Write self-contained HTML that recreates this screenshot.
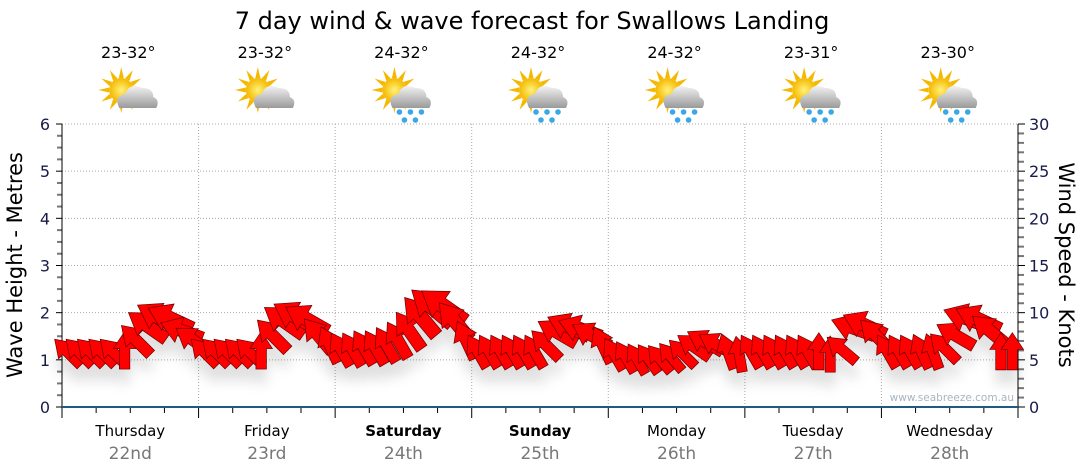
<!DOCTYPE html>
<html><head><meta charset="utf-8">
<style>
html,body{margin:0;padding:0;background:#fff;width:1080px;height:475px;overflow:hidden}
svg text{font-family:"DejaVu Sans","Liberation Sans",sans-serif}
</style></head>
<body>
<svg id="chart" width="1080" height="475" viewBox="0 0 1080 475" xmlns="http://www.w3.org/2000/svg">
<defs>
<filter id="sh" x="-50%" y="-50%" width="200%" height="200%">
<feDropShadow dx="0" dy="14" stdDeviation="6" flood-color="#000" flood-opacity="0.12"/>
</filter>
<radialGradient id="sunG" cx="50%" cy="50%" r="50%"><stop offset="0" stop-color="#fff27a"/><stop offset="1" stop-color="#f5b800"/></radialGradient>
<linearGradient id="cloudG" x1="0" y1="0" x2="0" y2="1"><stop offset="0" stop-color="#f2f2f2"/><stop offset="1" stop-color="#9a9a9a"/></linearGradient>
</defs>
<text x="532" y="29" font-size="24" text-anchor="middle" fill="#000">7 day wind &amp; wave forecast for Swallows Landing</text>
<g id="grid"></g>
<g id="axes"></g>
<g id="icons"></g>
<g id="arrows" filter="url(#sh)"></g>
<text x="1014" y="401" font-size="10.5" text-anchor="end" fill="#a8b4c0">www.seabreeze.com.au</text>
<text transform="translate(22,265) rotate(-90)" font-size="21" text-anchor="middle" fill="#000">Wave Height - Metres</text>
<text transform="translate(1059,265) rotate(90)" font-size="21" text-anchor="middle" fill="#000">Wind Speed - Knots</text>
</svg>
<script>
const days = ["Thursday","Friday","Saturday","Sunday","Monday","Tuesday","Wednesday"];
const dates = ["22nd","23rd","24th","25th","26th","27th","28th"];
const boldDays = [false,false,true,true,false,false,false];
const temps = ["23-32°","23-32°","24-32°","24-32°","24-32°","23-31°","23-30°"];
const rain = [false,false,true,true,true,true,true];
const waveTicks = [0,1,2,3,4,5,6];
const windTicks = [0,5,10,15,20,25,30];
const windSpeed = [5.7,5.7,5.7,5.7,5.7,5.9,7.0,8.5,9.4,9.3,8.0,7.0,
 5.7,5.7,5.7,5.7,5.7,5.9,7.5,9.0,9.5,9.2,7.5,6.5,
 6.0,6.0,6.2,6.2,6.5,7.0,8.0,9.5,10.5,10.6,9.0,7.0,
 5.8,5.8,5.8,5.8,5.8,5.8,6.5,7.8,8.4,8.2,7.5,6.5,
 5.5,5.2,5.0,5.0,5.0,5.2,5.6,6.3,6.8,6.5,5.8,5.5,
 5.8,5.8,5.8,5.8,5.8,5.8,5.8,5.5,6.0,8.3,8.6,7.5,
 5.8,5.8,5.8,5.8,5.8,6.2,7.5,9.3,9.2,8.0,5.8,5.8];
const windDir = [-45,-45,-45,-45,-45,0,-45,-55,-60,-65,-70,-55,
 -45,-45,-45,-45,-45,0,-45,-55,-60,-60,-40,-25,
 -30,-30,-30,-30,-30,-30,-35,-40,-50,-55,-40,-25,
 -30,-30,-30,-30,-30,-30,-45,-60,-65,-70,-60,-25,
 -30,-30,-30,-35,-40,-40,-45,-55,-60,-60,-20,-10,
 -30,-30,-30,-30,-30,-30,0,0,-50,-70,-65,-45,
 -30,-30,-30,-25,-20,-45,-60,-70,-65,-50,0,0];

const NS="http://www.w3.org/2000/svg";
const X0=62,X1=1018,Y0=407,Y1=124;
const dayW=(X1-X0)/days.length;
const yW=m=>Y0-(m/6)*(Y0-Y1);
const yK=k=>Y0-(k/30)*(Y0-Y1);
const xT=i=>X0+(i+0.5)*(X1-X0)/windSpeed.length;
function mk(tag,attrs,parent){const e=document.createElementNS(NS,tag);for(const k in attrs)e.setAttribute(k,attrs[k]);parent.appendChild(e);return e;}
const grid=document.getElementById('grid'),axes=document.getElementById('axes'),icons=document.getElementById('icons'),arrows=document.getElementById('arrows');

waveTicks.forEach(v=>{
  if(v>0){const l=mk('line',{x1:X0,x2:X1,y1:yW(v),y2:yW(v),stroke:'#aaa','stroke-dasharray':'1,2'},grid);
  
  }
  const t=mk('text',{x:50,y:yW(v)+6,'font-size':16,'text-anchor':'end',fill:'#1a1a4a'},axes);t.textContent=v;
  
  
});
for(let i=0;i<=24;i++){const y=Y0-i*(Y0-Y1)/24;mk('line',{x1:i%4==0?56:57,x2:X0,y1:y,y2:y,stroke:i%4==0?'#000':'#777','stroke-width':i%4==0?1:2},axes);}
windTicks.forEach(v=>{
  const t=mk('text',{x:1029,y:yK(v)+6,'font-size':16,'text-anchor':'start',fill:'#1a1a4a'},axes);t.textContent=v;
  
  
});
for(let i=0;i<=30;i++){const y=yK(i);mk('line',{x1:X1,x2:i%5==0?1025:1024,y1:y,y2:y,stroke:i%5==0?'#000':'#777','stroke-width':i%5==0?1:2},axes);}
mk('line',{x1:X0,x2:X0,y1:Y1,y2:Y0,stroke:'#000'},axes);
mk('line',{x1:X1,x2:X1,y1:Y1,y2:Y0,stroke:'#000'},axes);
for(let i=0;i<=days.length*4;i++){const x=X0+i*dayW/4;mk('line',{x1:x,x2:x,y1:Y0,y2:i%4==0?418:413,stroke:'#000'},axes);}
mk('line',{x1:X0,x2:X1,y1:Y0,y2:Y0,stroke:'#1f5a84','stroke-width':2},axes);

days.forEach((d,i)=>{
  const cx=X0+(i+0.5)*dayW;
  if(i>0){const l=mk('line',{x1:X0+i*dayW,x2:X0+i*dayW,y1:Y1,y2:Y0,stroke:'#aaa','stroke-dasharray':'1,2'},grid);
  
  }
  const t=mk('text',{x:cx,y:436,'font-size':15,'text-anchor':'middle',fill:'#000','font-weight':boldDays[i]?'bold':'normal'},axes);t.textContent=d;
  
  
  const t2=mk('text',{x:cx,y:459,'font-size':17,'text-anchor':'middle',fill:'#777'},axes);t2.textContent=dates[i];
  
  
  const t3=mk('text',{x:cx-2,y:58,'font-size':16,'text-anchor':'middle',fill:'#000'},icons);t3.textContent=temps[i];
  
  
  const g=mk('g',{transform:`translate(${cx},95)`},icons);
  
  
  for(let r=0;r<12;r++){const a=r*30;mk('polygon',{points:'-2.5,-12 2.5,-12 0,-23',fill:'#f5b800',transform:`translate(-9,-5) rotate(${a})`},g);}
  mk('circle',{cx:-9,cy:-5,r:12,fill:'url(#sunG)'},g);
  mk('path',{d:'M-11,13 Q-17,1 -5,-1 Q-1,-13 12,-7 Q23,-7 23,2 Q30,5 26,13 Z',fill:'url(#cloudG)'},g);
  if(rain[i]){[[-4,17],[7,17],[18,17],[1,25],[12,25]].forEach(p=>mk('circle',{cx:p[0],cy:p[1],r:2.8,fill:'#3aa8e8'},g));}
});

windSpeed.forEach((s,i)=>{
  const L=18+3.3*s, h=L/2, hw=L*0.3, sw=L*0.14, hb=-h+L*0.45;
  const pts=`0,${-h} ${hw},${hb} ${sw},${hb} ${sw},${h} ${-sw},${h} ${-sw},${hb} ${-hw},${hb}`;
  const p=mk('polygon',{points:pts,fill:'#ff0000',stroke:'#6a0000','stroke-width':0.7,
    transform:`translate(${xT(i)},${yK(s)-1}) rotate(${windDir[i]})`},arrows);
  
  
});
</script>
</body></html>
